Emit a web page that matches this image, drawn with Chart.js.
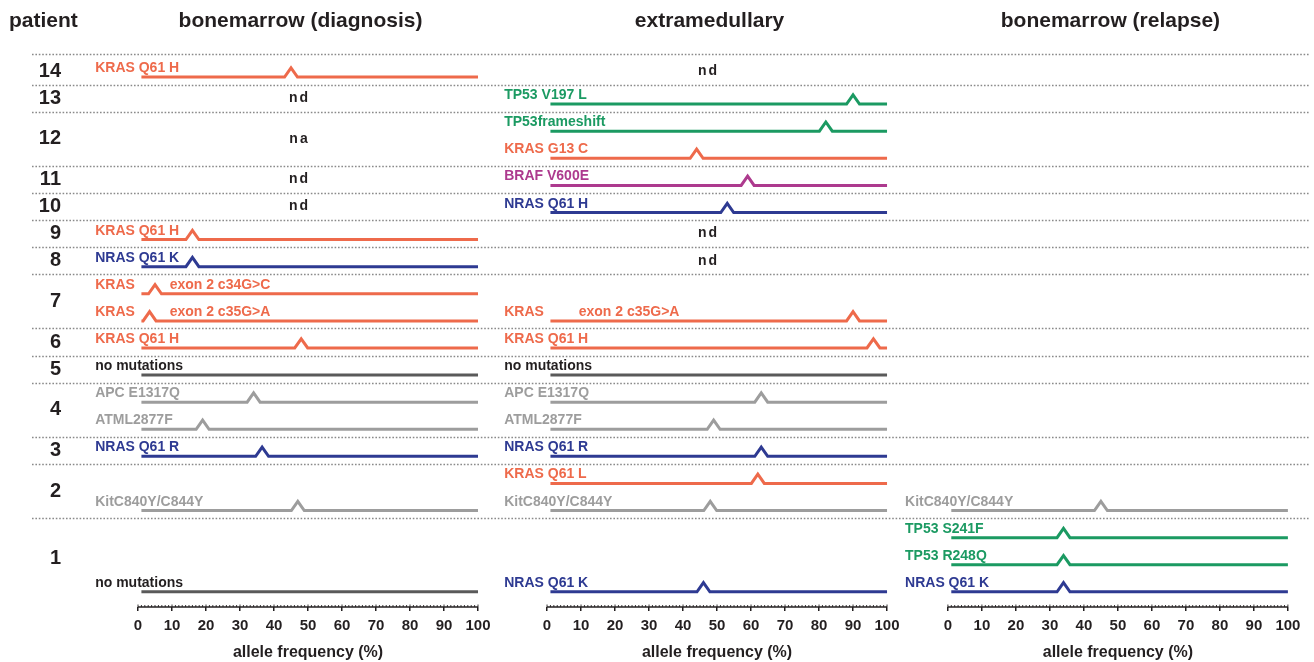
<!DOCTYPE html>
<html>
<head>
<meta charset="utf-8">
<title>allele frequency by patient</title>
<script src="https://cdn.jsdelivr.net/npm/chart.js@4.4.1/dist/chart.umd.min.js"></script>
<style>
  html, body { margin: 0; padding: 0; background: #fff; }
  #wrap { width: 1314px; height: 662px; position: relative; }
</style>
</head>
<body>
<div id="wrap"><canvas id="vaf-chart"></canvas></div>
<script>
(function() {
    'use strict';

    // patients, top to bottom, and the lanes (rows) each one takes
    var patients = ['14', '13', '12', '11', '10', '9', '8', '7', '6', '5', '4', '3', '2', '1'];
    var patientFirstLane = [0, 1, 2, 4, 5, 6, 7, 8, 10, 11, 12, 14, 15, 17];
    var patientLaneCount = [1, 1, 2, 1, 1, 1, 1, 2, 1, 1, 2, 1, 2, 3];

    var panelTitles = ['bonemarrow (diagnosis)', 'extramedullary', 'bonemarrow (relapse)'];
    var xTickValues = [0, 10, 20, 30, 40, 50, 60, 70, 80, 90, 100];
    var xTitle = 'allele frequency (%)';

    // bonemarrow (diagnosis)
    var diagLanes = [0, 6, 7, 8, 9, 10, 11, 12, 13, 14, 16, 19];
    var diagLabels = ['KRAS Q61 H', 'KRAS Q61 H', 'NRAS Q61 K', 'KRAS|exon 2 c34G>C', 'KRAS|exon 2 c35G>A',
        'KRAS Q61 H', 'no mutations', 'APC E1317Q', 'ATML2877F', 'NRAS Q61 R', 'KitC840Y/C844Y', 'no mutations'];
    var diagFreqs = [45, 16, 16, 5, 3.4, 48, null, 34, 19, 36.5, 47, null];
    var diagGenes = ['kras', 'kras', 'nras', 'kras', 'kras', 'kras', 'none', 'other', 'other', 'nras', 'other', 'none'];
    var diagNotePatients = ['13', '12', '11', '10'];
    var diagNoteTexts = ['nd', 'na', 'nd', 'nd'];

    // extramedullary
    var extraLanes = [1, 2, 3, 4, 5, 9, 10, 11, 12, 13, 14, 15, 16, 19];
    var extraLabels = ['TP53 V197 L', 'TP53frameshift', 'KRAS G13 C', 'BRAF V600E', 'NRAS Q61 H', 'KRAS|exon 2 c35G>A',
        'KRAS Q61 H', 'no mutations', 'APC E1317Q', 'ATML2877F', 'NRAS Q61 R', 'KRAS Q61 L', 'KitC840Y/C844Y', 'NRAS Q61 K'];
    var extraFreqs = [90, 82, 44, 59, 53, 90, 96, null, 63, 49, 63, 62, 48, 46];
    var extraGenes = ['tp53', 'tp53', 'kras', 'braf', 'nras', 'kras', 'kras', 'none', 'other', 'other', 'nras', 'kras', 'other', 'nras'];
    var extraNotePatients = ['14', '9', '8'];
    var extraNoteTexts = ['nd', 'nd', 'nd'];

    // bonemarrow (relapse)
    var relapseLanes = [16, 17, 18, 19];
    var relapseLabels = ['KitC840Y/C844Y', 'TP53 S241F', 'TP53 R248Q', 'NRAS Q61 K'];
    var relapseFreqs = [45, 34, 34, 34];
    var relapseGenes = ['other', 'tp53', 'tp53', 'nras'];
    var relapseNotePatients = [];
    var relapseNoteTexts = [];

    var lineColors = { kras: '#ee6a4b', nras: '#2e3a92', tp53: '#1b9a62', braf: '#ad3a8e', other: '#9d9d9d', none: '#5a5a5a' };
    var textColors = { kras: '#ee6a4b', nras: '#2e3a92', tp53: '#1b9a62', braf: '#ad3a8e', other: '#9d9d9d', none: '#231f20' };
    var ink = '#231f20';
    var fontFamily = "'Liberation Sans', Arial, Helvetica, sans-serif";

    // layout (x in panel units, y in lanes)
    var PANEL_OFFSET = [0, 120.3, 238.2];
    var X_MIN = -21.18, X_MAX = 344.7;
    var Y_TOP = -0.85, Y_BOTTOM = 19.56;
    var LINE_START = 1, PEAK_HALF = 1.9, PEAK_RISE = 0.34;
    var LABEL_X = -12.6, SUFFIX_X = 9.3, NOTE_X = 47.5, TITLE_X = 47.8;

    var panels = [
        { lanes: diagLanes, labels: diagLabels, freqs: diagFreqs, genes: diagGenes, notes: diagNotePatients, noteTexts: diagNoteTexts },
        { lanes: extraLanes, labels: extraLabels, freqs: extraFreqs, genes: extraGenes, notes: extraNotePatients, noteTexts: extraNoteTexts },
        { lanes: relapseLanes, labels: relapseLabels, freqs: relapseFreqs, genes: relapseGenes, notes: relapseNotePatients, noteTexts: relapseNoteTexts }
    ];

    function patientCenter(i) {
        return patientFirstLane[i] + (patientLaneCount[i] - 1) / 2 - 0.22;
    }

    function separatorValue(i) {
        return i === 0 ? Y_TOP : patientFirstLane[i] - 0.72;
    }

    function trackPoints(off, lane, freq) {
        var pts = [{ x: off + LINE_START, y: lane }];
        if (freq !== null) {
            pts.push({ x: off + Math.max(freq - PEAK_HALF, LINE_START), y: lane });
            pts.push({ x: off + freq, y: lane - PEAK_RISE });
            pts.push({ x: off + freq + PEAK_HALF, y: lane });
        }
        pts.push({ x: off + 100, y: lane });
        return pts;
    }

    var datasets = [];
    panels.forEach(function(panel, k) {
        panel.lanes.forEach(function(lane, i) {
            datasets.push({
                label: panel.labels[i].replace('|', ' '),
                data: trackPoints(PANEL_OFFSET[k], lane, panel.freqs[i]),
                borderColor: lineColors[panel.genes[i]],
                borderWidth: 3,
                pointRadius: 0,
                tension: 0,
                fill: false
            });
        });
    });

    var annotate = {
        id: 'annotate',
        beforeDatasetsDraw: function(chart) {
            var ctx = chart.ctx;
            var y = chart.scales.y;
            var area = chart.chartArea;
            ctx.save();
            ctx.strokeStyle = '#8a8a8a';
            ctx.lineWidth = 1.5;
            ctx.setLineDash([1.6, 1.8]);
            patients.forEach(function(p, i) {
                var py = Math.round(y.getPixelForValue(separatorValue(i))) + 0.5;
                ctx.beginPath();
                ctx.moveTo(32, py);
                ctx.lineTo(area.right, py);
                ctx.stroke();
            });
            ctx.restore();
        },
        afterDraw: function(chart) {
            var ctx = chart.ctx;
            var x = chart.scales.x;
            var y = chart.scales.y;
            var bottom = chart.chartArea.bottom;
            ctx.save();

            // headers
            ctx.fillStyle = ink;
            ctx.font = 'bold 21px ' + fontFamily;
            ctx.textBaseline = 'alphabetic';
            ctx.textAlign = 'left';
            ctx.fillText('patient', 9, 27);
            ctx.textAlign = 'center';
            panelTitles.forEach(function(t, k) {
                ctx.fillText(t, x.getPixelForValue(PANEL_OFFSET[k] + TITLE_X), 27);
            });

            panels.forEach(function(panel, k) {
                var off = PANEL_OFFSET[k];

                // mutation names
                ctx.font = 'bold 14px ' + fontFamily;
                ctx.textAlign = 'left';
                ctx.textBaseline = 'alphabetic';
                panel.labels.forEach(function(label, i) {
                    var parts = label.split('|');
                    var py = y.getPixelForValue(panel.lanes[i]) - 5;
                    ctx.fillStyle = textColors[panel.genes[i]];
                    ctx.fillText(parts[0], x.getPixelForValue(off + LABEL_X), py);
                    if (parts[1]) {
                        ctx.fillText(parts[1], x.getPixelForValue(off + SUFFIX_X), py);
                    }
                });

                // nd / na
                ctx.fillStyle = ink;
                ctx.textAlign = 'center';
                ctx.textBaseline = 'middle';
                ctx.letterSpacing = '2px';
                panel.notes.forEach(function(p, i) {
                    var idx = patients.indexOf(p);
                    ctx.fillText(panel.noteTexts[i], x.getPixelForValue(off + NOTE_X), y.getPixelForValue(patientCenter(idx)));
                });
                ctx.letterSpacing = '0px';

                // axis line with minor ticks
                var x0 = x.getPixelForValue(off);
                var x1 = x.getPixelForValue(off + 100);
                ctx.strokeStyle = ink;
                ctx.lineWidth = 1.5;
                ctx.beginPath();
                ctx.moveTo(x0, bottom);
                ctx.lineTo(x1, bottom);
                ctx.stroke();
                ctx.lineWidth = 0.9;
                ctx.beginPath();
                for (var v = 0; v <= 100; v++) {
                    var px = x.getPixelForValue(off + v);
                    ctx.moveTo(px, bottom - (v % 10 === 0 ? 2.5 : 2));
                    ctx.lineTo(px, bottom);
                }
                ctx.stroke();

                // axis title
                ctx.font = 'bold 16px ' + fontFamily;
                ctx.fillStyle = ink;
                ctx.textAlign = 'center';
                ctx.textBaseline = 'middle';
                ctx.fillText(xTitle, x.getPixelForValue(off + 50), 653);
            });
            ctx.restore();
        }
    };

    new Chart(document.getElementById('vaf-chart'), {
        type: 'line',
        data: { datasets: datasets },
        plugins: [annotate],
        options: {
            responsive: true,
            maintainAspectRatio: false,
            animation: false,
            events: [],
            layout: { padding: { left: 0, right: 4, top: 54, bottom: 0 } },
            plugins: {
                legend: { display: false },
                tooltip: { enabled: false },
                title: { display: false }
            },
            scales: {
                x: {
                    type: 'linear',
                    position: 'bottom',
                    min: X_MIN,
                    max: X_MAX,
                    afterBuildTicks: function(scale) {
                        var ticks = [];
                        PANEL_OFFSET.forEach(function(off) {
                            xTickValues.forEach(function(v) { ticks.push({ value: off + v }); });
                        });
                        scale.ticks = ticks;
                    },
                    afterFit: function(scale) { scale.height = 55; },
                    border: { display: false },
                    grid: {
                        drawOnChartArea: false,
                        drawTicks: true,
                        tickLength: 4,
                        color: ink,
                        lineWidth: 1.5
                    },
                    ticks: {
                        autoSkip: false,
                        maxRotation: 0,
                        padding: 6,
                        color: ink,
                        font: { family: fontFamily, size: 15, weight: 'bold' },
                        callback: function(value) {
                            for (var k = PANEL_OFFSET.length - 1; k >= 0; k--) {
                                if (value >= PANEL_OFFSET[k] - 0.5) {
                                    return String(Math.round(value - PANEL_OFFSET[k]));
                                }
                            }
                            return '';
                        }
                    }
                },
                y: {
                    type: 'linear',
                    reverse: true,
                    min: Y_TOP,
                    max: Y_BOTTOM,
                    afterBuildTicks: function(scale) {
                        scale.ticks = patients.map(function(p, i) { return { value: patientCenter(i) }; });
                    },
                    afterFit: function(scale) { scale.width = 66; },
                    border: { display: false },
                    grid: { display: false, drawTicks: false },
                    ticks: {
                        autoSkip: false,
                        padding: 5,
                        color: ink,
                        font: { family: fontFamily, size: 20, weight: 'bold' },
                        callback: function(value, index) { return patients[index]; }
                    }
                }
            }
        }
    });
})();
</script>
</body>
</html>
